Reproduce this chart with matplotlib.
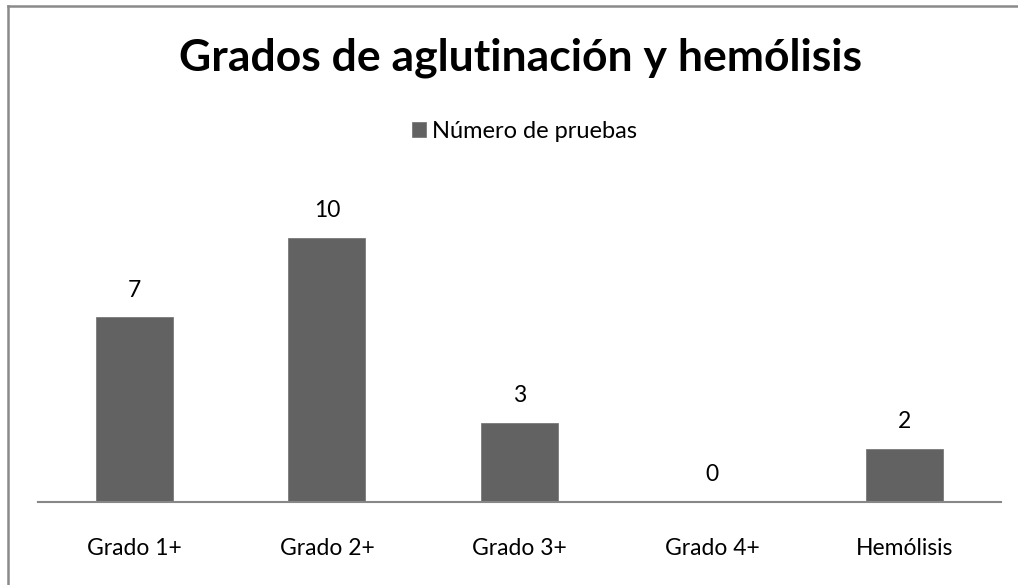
import matplotlib.pyplot as plt
from matplotlib.lines import Line2D

categorias = ['Grado 1+', 'Grado 2+', 'Grado 3+', 'Grado 4+', 'Hemólisis']
pruebas = [7, 10, 3, 0, 2]
serie = 'Número de pruebas'
titulo = 'Grados de aglutinación y hemólisis'

plt.rcParams['font.family'] = ['Lato', 'DejaVu Sans']

fig = plt.figure(figsize=(10.18, 5.85), dpi=100)
ax = fig.add_axes([0.0373, 0.1424, 0.946, 0.5406])

x = range(len(categorias))
bars = ax.bar(x, pruebas, width=0.4, color='#626262', edgecolor='#7a7a7a',
              linewidth=0.6, label=serie, zorder=2)
for xi, v in zip(x, pruebas):
    ax.annotate(str(v), (xi, v), xytext=(0, 12), textcoords='offset points',
                ha='center', va='bottom', fontsize=16.5, color='black')

ax.set_xlim(-0.5, len(categorias) - 0.5)
ax.set_ylim(0, 12)
ax.set_xticks(list(x))
ax.set_xticklabels(categorias, fontsize=16.5)
ax.tick_params(axis='x', length=0, pad=26)
ax.set_yticks([])
for s in ['top', 'right', 'left']:
    ax.spines[s].set_visible(False)
ax.spines['bottom'].set_color('#878787')
ax.spines['bottom'].set_linewidth(1.5)

fig.text(0.511, 1 - 58 / 585, titulo, ha='center', va='center',
         fontsize=32, fontweight='bold')
ax.legend(loc='center', bbox_to_anchor=(0.515, 1 - 131 / 585), bbox_transform=fig.transFigure,
          frameon=False, fontsize=17, handlelength=0.6, handleheight=0.6,
          handletextpad=0.25)

# marco del gráfico
fig.add_artist(Line2D([7.5 / 1018, 7.5 / 1018], [0, 1 - 6 / 585],
                      transform=fig.transFigure, color='#8a8a8a', lw=1.8))
fig.add_artist(Line2D([7.5 / 1018, 1], [1 - 6 / 585, 1 - 6 / 585],
                      transform=fig.transFigure, color='#8a8a8a', lw=1.8))

fig.savefig('out.png', dpi=100, facecolor='white')
